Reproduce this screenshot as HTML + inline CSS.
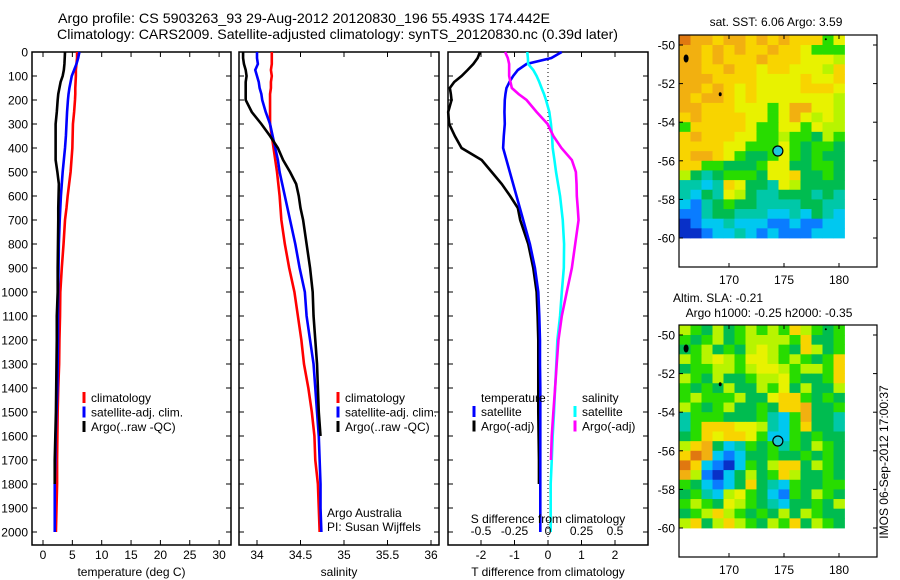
<!DOCTYPE html>
<html><head><meta charset="utf-8">
<style>
html,body{margin:0;padding:0;background:#fff;}
svg{display:block;font-family:"Liberation Sans",sans-serif;}
</style></head>
<body>
<svg id="fig" width="900" height="580" viewBox="0 0 900 580" xmlns="http://www.w3.org/2000/svg">
<text x="58" y="23" font-size="14" textLength="492" lengthAdjust="spacingAndGlyphs">Argo profile: CS 5903263_93 29-Aug-2012 20120830_196 55.493S 174.442E</text>
<text x="57" y="39" font-size="14" textLength="561" lengthAdjust="spacingAndGlyphs">Climatology: CARS2009. Satellite-adjusted climatology: synTS_20120830.nc (0.39d later)</text>
<g id="layer"></g>
</svg>
<script>
// ---- data ----
const depths = [0,25,50,75,100,125,150,175,200,250,300,350,400,450,500,550,600,650,700,800,900,1000,1100,1200,1300,1400,1500,1600,1700,1800,1900,2000];
const tempClim = [5.8,5.8,5.7,5.6,5.6,5.55,5.5,5.5,5.45,5.3,5.1,5.05,5.0,4.85,4.7,4.45,4.2,4.0,3.75,3.5,3.2,2.95,2.9,2.8,2.75,2.6,2.5,2.45,2.4,2.4,2.3,2.2];
const tempSat = [6.2,6.0,5.7,5.3,4.9,4.7,4.5,4.35,4.25,4.1,4.0,3.9,3.75,3.55,3.35,3.2,3.05,2.95,2.85,2.7,2.65,2.6,2.55,2.55,2.5,2.45,2.3,2.15,2.1,2.0,2.0,2.0];
const tempArgo = [3.75,3.7,3.65,3.55,3.35,3.0,2.8,2.6,2.5,2.35,2.15,2.15,2.15,2.15,2.45,2.7,2.65,2.6,2.6,2.55,2.5,2.5,2.35,2.35,2.3,2.25,2.2,2.1,2.0,2.0,null,null];
const salClim = [34.17,34.17,34.17,34.16,34.17,34.16,34.16,34.15,34.15,34.15,34.15,34.17,34.19,34.21,34.23,34.245,34.26,34.27,34.28,34.32,34.37,34.43,34.47,34.51,34.54,34.59,34.63,34.66,34.67,34.70,34.71,34.72];
const salSat = [34.0,34.0,34.01,33.98,34.0,34.02,34.03,34.05,34.06,34.1,34.15,34.18,34.21,34.24,34.26,34.29,34.32,34.35,34.38,34.44,34.49,34.55,34.57,34.61,34.65,34.67,34.69,34.71,34.72,34.73,34.73,34.74];
const salArgo = [33.84,33.84,33.85,33.87,33.88,33.87,33.87,33.87,33.87,33.94,34.05,34.15,34.24,34.30,34.38,34.45,34.48,34.5,34.53,34.57,34.61,34.64,34.65,34.67,34.69,34.70,34.71,34.73,null,null,null,null];
const dT_argo = [-2.03,-2.1,-2.23,-2.4,-2.58,-2.8,-2.93,-2.9,-2.88,-2.98,-2.95,-2.78,-2.58,-1.98,-1.68,-1.38,-1.13,-0.9,-0.83,-0.59,-0.44,-0.34,-0.31,-0.29,-0.29,-0.29,-0.29,-0.28,-0.27,-0.27,null,null];
const dT_sat = [0.41,0.1,-0.64,-0.9,-1.04,-1.15,-1.24,-1.27,-1.29,-1.3,-1.29,-1.32,-1.34,-1.24,-1.14,-1.04,-0.94,-0.84,-0.74,-0.54,-0.39,-0.29,-0.26,-0.24,-0.24,-0.23,-0.23,-0.23,-0.23,-0.23,-0.23,-0.23];
const dS_sat = [-0.155,-0.15,-0.148,-0.11,-0.085,-0.065,-0.048,-0.03,-0.015,0.01,0.022,0.03,0.035,0.048,0.06,0.075,0.09,0.1,0.11,0.12,0.118,0.103,0.09,0.07,0.062,0.053,0.045,0.035,0.028,0.02,0.02,0.02];
const dS_argo = [-0.32,-0.3,-0.29,-0.29,-0.29,-0.28,-0.27,-0.22,-0.16,-0.085,-0.003,0.04,0.1,0.178,0.208,0.213,0.215,0.222,0.228,0.203,0.178,0.14,0.103,0.078,0.065,0.053,0.04,0.028,0.022,null,null,null];
const depthTicks = [0,100,200,300,400,500,600,700,800,900,1000,1100,1200,1300,1400,1500,1600,1700,1800,1900,2000];
const tempTicks = [0,5,10,15,20,25,30];
const salTicks = [34,34.5,35,35.5,36];
const dTTicks = [-2,-1,0,1,2];
const dSTicks = [-0.5,-0.25,0,0.25,0.5];
const latTicks = [-50,-52,-54,-56,-58,-60];
const lonTicks = [170,175,180];
const argoLon = 174.442, argoLat = -55.493;
const sstGrid = [
"rooyooyoyoyyygY","ooyoyoyyoyyYggg","ooyoyyyoyyyYYYl","ooyyoyyYyyYYYly","oooyyyyYYYYyYYy",
"ooyoyYyYYYYyyyY","oyooyYyYYYYYYYl","ooyyyYYYgYooYYl","yoyyyyYYgYoYlYl","gyyyyyYggYYgYll",
"yoyyyYYgglggGlg","yyyyYYgggYgGggG","yooyYgGGgYgGgGG","yyggGGGgYYGGggG","lGcGgggGYYyGGgG",
"ccCcyYGGcYlGGGG","cCGcYlGccGGGcGc","CbcGgGGccccGGcc","bbcGGcccCCcCGcC","BbCCcCCCbbCbbCC","BBbCCcCbCbbbCCC"];
const slaGrid = [
"lgGlGglglgylgGg","gGglGgllllgyGGg","GglGgGlYlgGylGg","lglYlgYYlglgGgy","GggllglYYlgllgy",
"lgGlGGgllYgGGgy","gGgGlGGlgYGlGGl","glggglGGYyygGgG","lgGglGGgGyyoGGg","cgggGGGgcCgoGGc",
"cgyyyYYlcCgyGGc","GgyYyyYgCCgGgGG","lyoGCcgGgcgGlgG","yroCbCGGgGGgGgG","ryCbBCgGlyyGlgG",
"olbBCGlGgylGGgG","gGCbCGyGcCgGGgg","GgcClYgGCbgGlgG","glgGYlgGcCGGgGl","GglylgGgGlGlgGG","lyGlylgGlgyGlgG"];
const palette = {r:"#e07810",o:"#f2b010",y:"#f8d400",Y:"#e8f200",l:"#b8f400",g:"#28dc00",G:"#00bc50",c:"#00c8a8",C:"#00c8f0",b:"#0a7cff",B:"#0830c8"};

// ---- helpers ----
const NS="http://www.w3.org/2000/svg";
const layer=document.getElementById('layer');
function mk(tag,attrs,parent){const e=document.createElementNS(NS,tag);for(const k in attrs)e.setAttribute(k,attrs[k]);(parent||layer).appendChild(e);return e;}
function txt(s,x,y,size,anchor,parent){const t=mk('text',{x:x,y:y,'font-size':size,'text-anchor':anchor||'start'},parent);t.textContent=s;return t;}
const Y0=52, Y1=545;
const yD = d => Y0 + d*0.24;

function profilePanel(name,x0,x1,xs,ticks,fmt,xlabel){
  const g=mk('g',{});
  
  
  const box=mk('rect',{x:x0,y:Y0,width:x1-x0,height:Y1-Y0,fill:'none',stroke:'#000','stroke-width':1.5},g);
  
  
  depthTicks.forEach(d=>{mk('line',{x1:x0,x2:x0+5,y1:yD(d),y2:yD(d),stroke:'#000'},g);mk('line',{x1:x1-5,x2:x1,y1:yD(d),y2:yD(d),stroke:'#000'},g);});
  ticks.forEach(v=>{const x=xs(v);mk('line',{x1:x,x2:x,y1:Y1,y2:Y1-5,stroke:'#000'},g);mk('line',{x1:x,x2:x,y1:Y0,y2:Y0+5,stroke:'#000'},g);
    if(fmt){const t=txt(fmt(v),x,559,12,'middle',g);}});
  if(xlabel){const t=txt(xlabel,(x0+x1)/2,576,12,'middle',g);}
  return g;
}
function series(g,vals,xs,color,name){
  let pts=[];
  const draw=()=>{if(pts.length>1){const p=mk('polyline',{points:pts.join(' '),fill:'none',stroke:color,'stroke-width':2.6,'stroke-linejoin':'miter'},g);}pts=[];};
  vals.forEach((v,i)=>{if(v===null){draw();return;}const x=xs(v),y=yD(depths[i]);pts.push(x+','+y);});
  draw();
}
function legend(g,items,x,y){
  items.forEach((it,i)=>{const yy=y+i*14.5;const l=mk('line',{x1:x,x2:x,y1:yy-10,y2:yy+1,stroke:it[1],'stroke-width':3},g);
    const t=txt(it[0],x+7,yy,12,'start',g);});
}

// depth labels
depthTicks.forEach(d=>{const t=txt(String(d),28,yD(d)+4.5,12,'end');});

// panel 1 temperature
const xT=v=>43+v*5.87;
const p1=profilePanel('temperature-panel',32,231,xT,tempTicks,v=>String(v),'temperature (deg C)');
series(p1,tempClim,xT,'#ff0000','temp-climatology-line');
series(p1,tempSat,xT,'#0000ff','temp-satellite-line');
series(p1,tempArgo,xT,'#000000','temp-argo-line');
legend(p1,[['climatology','#f00'],['satellite-adj. clim.','#00f'],['Argo(..raw -QC)','#000']],84,402);

// panel 2 salinity
const xS=v=>257+(v-34)*87;
const p2=profilePanel('salinity-panel',239,439,xS,salTicks,v=>String(v),'salinity');
series(p2,salClim,xS,'#ff0000','sal-climatology-line');
series(p2,salSat,xS,'#0000ff','sal-satellite-line');
series(p2,salArgo,xS,'#000000','sal-argo-line');
legend(p2,[['climatology','#f00'],['satellite-adj. clim.','#00f'],['Argo(..raw -QC)','#000']],338,402);
{const a=txt('Argo Australia',327,517,12,'start',p2);
 const b=txt('PI: Susan Wijffels',327,531,12,'start',p2);}

// panel 3 differences
const xDT=v=>548+v*33.5;
const xDS=v=>548+v*4*33.5;
const p3=profilePanel('difference-panel',448,648,xDT,dTTicks,v=>String(v),'T difference from climatology');
mk('line',{x1:548,x2:548,y1:Y0,y2:Y1,stroke:'#000','stroke-dasharray':'1,3'},p3);
series(p3,dT_argo,xDT,'#000000','dT-argo-line');
series(p3,dT_sat,xDT,'#0000ff','dT-satellite-line');
series(p3,dS_sat,xDS,'#00ffff','dS-satellite-line');
series(p3,dS_argo,xDS,'#ff00ff','dS-argo-line');
dSTicks.forEach(v=>{const t=txt(String(v),xDS(v),535,12,'middle',p3);});
{const t=txt('S difference from climatology',548,523,12,'middle',p3);}
{const t=txt('temperature',481,402,12,'start',p3);
 const s=txt('salinity',582,402,12,'start',p3);}
legend(p3,[['satellite','#00f'],['Argo(-adj)','#000']],474,416);
legend(p3,[['satellite','#0ff'],['Argo(-adj)','#f0f']],575,416);

// maps
function mapPanel(name,oy,grid,titles){
  const g=mk('g',{});
  
  
  const lonX=l=>729+(l-170)*11, latY=la=>oy+45+(-50-la)*19.3;
  const cw=11, ch=19.3*0.5;
  grid.forEach((row,r)=>{for(let c=0;c<row.length;c++){
    const x=lonX(165.5+c), y=latY(-49.5-r*0.5);
    const cell=mk('rect',{x:x,y:y,width:cw+0.4,height:ch+0.4,fill:palette[row[c]]},g);
    
    
  }});
  const fr=mk('rect',{x:679,y:oy+35,width:198,height:232,fill:'none',stroke:'#000','stroke-width':1.2},g);
  
  latTicks.forEach(la=>{const y=latY(la);mk('line',{x1:679,x2:683,y1:y,y2:y,stroke:'#000'},g);mk('line',{x1:873,x2:877,y1:y,y2:y,stroke:'#000'},g);
    const t=txt(String(la),675,y+4.5,12,'end',g);});
  lonTicks.forEach(lo=>{const x=lonX(lo);mk('line',{x1:x,x2:x,y1:oy+35,y2:oy+39,stroke:'#000'},g);mk('line',{x1:x,x2:x,y1:oy+263,y2:oy+267,stroke:'#000'},g);
    const t=txt(String(lo),x,oy+284,12,'middle',g);});
  [[166.1,-50.7,2.5,4],[169.2,-52.55,1.5,2],[178.8,-49.7,1,1]].forEach(p=>{const e=mk('ellipse',{cx:lonX(p[0]),cy:latY(p[1]),rx:p[2],ry:p[3],fill:'#000'},g);});
  const c=mk('circle',{cx:lonX(argoLon),cy:latY(argoLat),r:5,fill:'#1ec8d8',stroke:'#000','stroke-width':1.2},g);
  
  titles.forEach(t=>{const e=txt(t[0],t[1],t[2],12,'middle',g);});
}
mapPanel('sst-map',0,sstGrid,[['sat. SST: 6.06 Argo: 3.59',776,26]]);
mapPanel('sla-map',290,slaGrid,[['Altim. SLA: -0.21',718,302],['Argo h1000: -0.25 h2000: -0.35',769,317]]);
{const t=txt('IMOS 06-Sep-2012 17:00:37',0,0,12,'middle');t.setAttribute('transform','translate(888,462) rotate(-90)');}
</script>
</body></html>
